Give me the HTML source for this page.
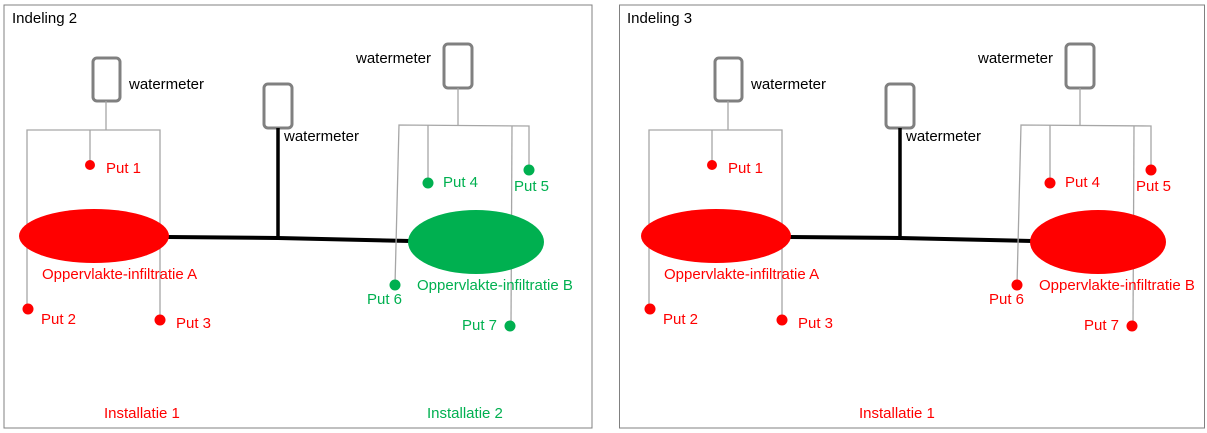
<!DOCTYPE html>
<html><head><meta charset="utf-8"><style>
html,body{margin:0;padding:0;background:#fff;}
svg{display:block;}
text{font-family:"Liberation Sans",sans-serif;font-size:15px;dominant-baseline:middle;}
.r{fill:#ff0000}.g{fill:#00b050}.k{fill:#000}
.t{stroke:#a6a6a6;stroke-width:1.3;fill:none}
.m{stroke:#808080;stroke-width:3;fill:#fff}
</style></head><body>
<svg width="1207" height="433" viewBox="0 0 1207 433" xmlns="http://www.w3.org/2000/svg">
<rect x="4" y="5" width="588" height="423" fill="none" stroke="#808080" stroke-width="1"/>
<rect x="619.5" y="5" width="585" height="423" fill="none" stroke="#808080" stroke-width="1"/>
<defs>
<g id="base">
  <rect class="m" x="93" y="58" width="27" height="43" rx="4"/>
  <text class="k" x="129" y="85">watermeter</text>
  <line class="t" x1="106" y1="101" x2="106" y2="130"/>
  <polyline class="t" points="27,309 27,130 160,130 160,320"/>
  <line class="t" x1="90" y1="130" x2="90" y2="165"/>
  <rect class="m" x="264" y="84" width="28" height="44" rx="4"/>
  <line x1="278" y1="128" x2="278" y2="238" stroke="#000" stroke-width="3.5"/>
  <text class="k" x="284" y="137">watermeter</text>
  <polyline points="168,237 278,238 410,241" fill="none" stroke="#000" stroke-width="4"/>
  <rect class="m" x="444" y="44" width="28" height="44" rx="4"/>
  <text class="k" x="356" y="59">watermeter</text>
  <line class="t" x1="458" y1="88" x2="458" y2="125"/>
  <polyline class="t" points="395,285 399,125 529,126 529,170"/>
  <line class="t" x1="428" y1="125" x2="428" y2="183"/>
  <line class="t" x1="512" y1="126" x2="511" y2="326"/>
</g>
</defs>
<!-- left -->
<text class="k" x="12" y="19">Indeling 2</text>
<use href="#base"/>
<ellipse cx="94" cy="236" rx="75" ry="27" fill="#ff0000"/>
<ellipse cx="476" cy="242" rx="68" ry="32" fill="#00b050"/>
<g class="r">
<circle cx="90" cy="165" r="5"/><text x="106" y="169">Put 1</text>
<circle cx="28" cy="309" r="5.5"/><text x="41" y="320">Put 2</text>
<circle cx="160" cy="320" r="5.5"/><text x="176" y="324">Put 3</text>
<text x="42" y="275">Oppervlakte-infiltratie A</text>
<text x="104" y="414">Installatie 1</text>
</g>
<g class="g">
<circle cx="428" cy="183" r="5.5"/><text x="443" y="183">Put 4</text>
<circle cx="529" cy="170" r="5.5"/><text x="514" y="187">Put 5</text>
<circle cx="395" cy="285" r="5.5"/><text x="367" y="300">Put 6</text>
<text x="417" y="286">Oppervlakte-infiltratie B</text>
<circle cx="510" cy="326" r="5.5"/><text x="462" y="326">Put 7</text>
<text x="427" y="414">Installatie 2</text>
</g>
<!-- right -->
<g transform="translate(622,0)">
<text class="k" x="5" y="19">Indeling 3</text>
<use href="#base"/>
<ellipse cx="94" cy="236" rx="75" ry="27" fill="#ff0000"/>
<ellipse cx="476" cy="242" rx="68" ry="32" fill="#ff0000"/>
<g class="r">
<circle cx="90" cy="165" r="5"/><text x="106" y="169">Put 1</text>
<circle cx="28" cy="309" r="5.5"/><text x="41" y="320">Put 2</text>
<circle cx="160" cy="320" r="5.5"/><text x="176" y="324">Put 3</text>
<text x="42" y="275">Oppervlakte-infiltratie A</text>
<circle cx="428" cy="183" r="5.5"/><text x="443" y="183">Put 4</text>
<circle cx="529" cy="170" r="5.5"/><text x="514" y="187">Put 5</text>
<circle cx="395" cy="285" r="5.5"/><text x="367" y="300">Put 6</text>
<text x="417" y="286">Oppervlakte-infiltratie B</text>
<circle cx="510" cy="326" r="5.5"/><text x="462" y="326">Put 7</text>
<text x="237" y="414">Installatie 1</text>
</g>
</g>
</svg>
</body></html>
